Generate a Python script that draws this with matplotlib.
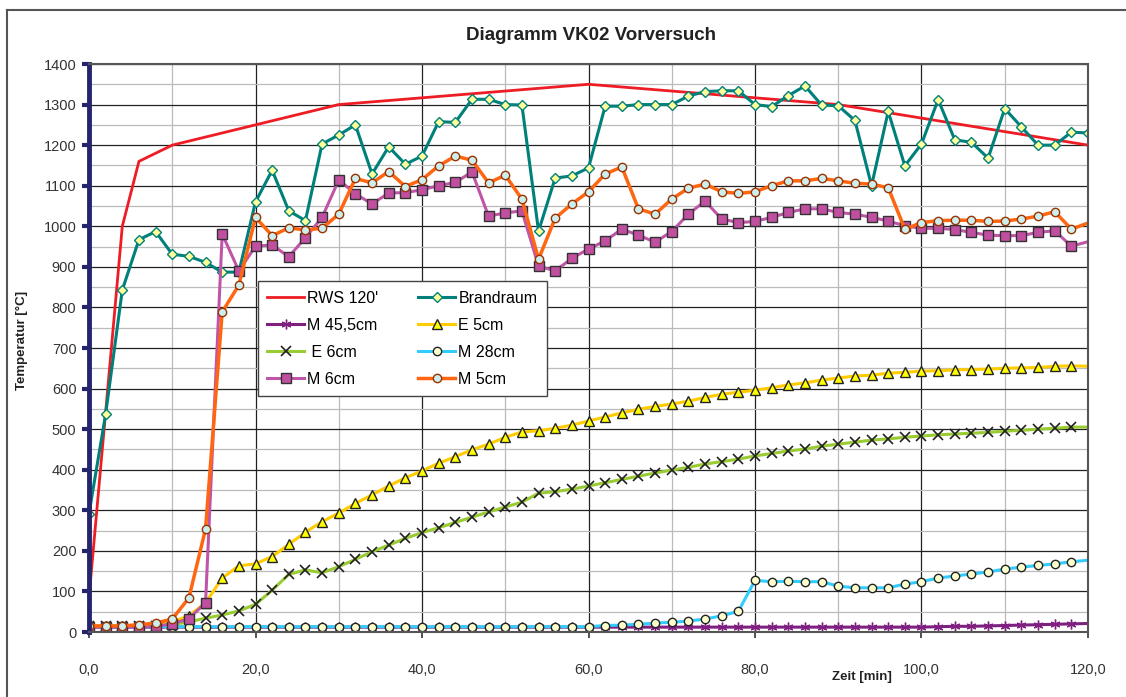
import matplotlib
matplotlib.use("Agg")
import matplotlib.pyplot as plt
from matplotlib.lines import Line2D
from matplotlib.ticker import MultipleLocator, FuncFormatter

plt.rcParams['font.family'] = ['Liberation Sans', 'DejaVu Sans']

# ── data (time in min, temperatures in °C) ─────────────────────────────
zeit = list(range(0, 121, 2))

rws_t = [0, 4, 6, 10, 20, 30, 60, 90, 120]
rws = [85, 1000, 1160, 1200, 1250, 1300, 1350, 1300, 1200]

brandraum = [292, 537, 843, 967, 987, 931, 926, 911, 887, 887,
             1060, 1138, 1038, 1014, 1203, 1225, 1250, 1129, 1196, 1153,
             1173, 1258, 1256, 1313, 1313, 1300, 1299, 988, 1119, 1124,
             1144, 1296, 1296, 1300, 1300, 1300, 1321, 1332, 1334, 1334,
             1300, 1295, 1322, 1346, 1299, 1297, 1261, 1100, 1283, 1149,
             1203, 1312, 1213, 1207, 1168, 1290, 1245, 1200, 1200, 1232,
             1230]

m45 = [12, 12, 12, 12, 12, 12, 12, 12, 12, 12,
       12, 12, 12, 12, 12, 12, 12, 12, 12, 12,
       12, 12, 12, 12, 12, 12, 12, 12, 12, 12,
       12, 12, 12, 12, 12, 12, 12, 12, 12, 12,
       12, 12, 12, 12, 12, 12, 12, 12, 12, 12,
       12, 13, 14, 14, 15, 16, 17, 18, 19, 20,
       21]

e5 = [15, 15, 15, 15, 17, 25, 40, 72, 133, 163,
      168, 186, 216, 246, 272, 293, 317, 338, 360, 380,
      397, 416, 432, 449, 463, 480, 493, 496, 502, 510,
      520, 530, 540, 549, 556, 562, 569, 578, 586, 591,
      596, 602, 609, 614, 621, 626, 631, 633, 638, 640,
      643, 644, 646, 647, 648, 650, 651, 652, 655, 656,
      655]

e6 = [14, 14, 14, 14, 15, 18, 25, 34, 42, 52,
      68, 103, 142, 153, 146, 161, 179, 198, 214, 231,
      245, 257, 270, 283, 296, 308, 320, 342, 346, 352,
      360, 368, 376, 384, 392, 399, 406, 414, 420, 426,
      434, 440, 446, 451, 458, 463, 468, 473, 476, 480,
      483, 486, 488, 490, 492, 495, 497, 500, 502, 505,
      505]

m28 = [13, 13, 13, 13, 13, 13, 13, 13, 13, 13,
       13, 13, 13, 13, 13, 13, 13, 13, 13, 13,
       13, 13, 13, 13, 13, 13, 13, 13, 13, 13,
       13, 16, 17, 19, 22, 24, 27, 32, 40, 51,
       127, 124, 125, 124, 124, 113, 109, 109, 109, 118,
       124, 133, 138, 143, 148, 155, 160, 164, 168, 173,
       177]

m6 = [12, 12, 12, 12, 14, 20, 33, 72, 981, 890,
      951, 954, 925, 972, 1022, 1114, 1080, 1055, 1082, 1083,
      1090, 1100, 1108, 1134, 1025, 1033, 1038, 902, 890, 921,
      944, 964, 993, 978, 961, 987, 1030, 1062, 1018, 1009,
      1012, 1022, 1034, 1043, 1043, 1034, 1030, 1022, 1013, 1001,
      995, 995, 992, 985, 978, 977, 977, 985, 989, 951,
      962]

m5 = [15, 15, 15, 18, 22, 32, 84, 254, 789, 855,
      1022, 977, 996, 991, 995, 1030, 1118, 1107, 1135, 1098,
      1115, 1149, 1173, 1163, 1107, 1126, 1067, 919, 1020, 1055,
      1085, 1129, 1146, 1043, 1030, 1067, 1094, 1104, 1085, 1081,
      1085, 1100, 1112, 1112, 1118, 1112, 1106, 1104, 1095, 993,
      1009, 1014, 1015, 1015, 1012, 1013, 1018, 1025, 1036, 993,
      1008]

# ── figure ─────────────────────────────────────────────────────────────
W, H = 1126, 697
fig = plt.figure(figsize=(W / 100, H / 100), dpi=100)
ax = fig.add_axes([89 / W, 1 - 632 / H, 999 / W, 568 / H])

lw = 2.2
no_last = slice(0, -1)
ax.plot(rws_t, rws, color='#ee1c24', lw=2.0, label="RWS 120'")
ax.plot(zeit, brandraum, color='#00807a', lw=lw, marker='D', ms=5,
        mfc='#ffff99', mec='#00807a', mew=1.0, label='Brandraum')
ax.plot(zeit, m45, color='#7f1f80', lw=lw, marker=(6, 2, 0), ms=7,
        mec='#7f1f80', mew=1.0, markevery=no_last, label='M 45,5cm')
ax.plot(zeit, e5, color='#ffcc00', lw=lw, marker='^', ms=6.5,
        mfc='#ffff00', mec='#222222', mew=1.0, markevery=no_last, label='E 5cm')
ax.plot(zeit, e6, color='#99cc33', lw=lw, marker='x', ms=6.5,
        mec='#222222', mew=1.2, markevery=no_last, label=' E 6cm')
ax.plot(zeit, m28, color='#33ccff', lw=lw, marker='o', ms=6,
        mfc='#ffffcc', mec='#222222', mew=1.0, markevery=no_last, label='M 28cm')
ax.plot(zeit, m6, color='#c055a8', lw=lw, marker='s', ms=6.5,
        mfc='#c04fa0', mec='#333333', mew=1.0, markevery=no_last, label='M 6cm')
ax.plot(zeit, m5, color='#ff6611', lw=lw + 0.3, marker='o', ms=6,
        mfc='#cceeee', mec='#993300', mew=1.0, markevery=no_last, label='M 5cm')

ax.set_xlim(0, 120)
ax.set_ylim(0, 1400)
ax.xaxis.set_major_locator(MultipleLocator(20))
ax.xaxis.set_minor_locator(MultipleLocator(10))
ax.yaxis.set_major_locator(MultipleLocator(100))
ax.yaxis.set_minor_locator(MultipleLocator(50))
ax.xaxis.set_major_formatter(FuncFormatter(lambda v, p: f"{v:.1f}".replace('.', ',')))
ax.yaxis.set_major_formatter(FuncFormatter(lambda v, p: f"{v:.0f}"))

ax.set_axisbelow(True)
ax.grid(which='major', color='#222222', lw=0.9)
ax.grid(which='minor', color='#bbbbbb', lw=0.9)
ax.tick_params(which='minor', length=0)
ax.tick_params(axis='x', which='major', length=4, width=1.2, color='#333333',
               pad=18, labelsize=10.5, labelcolor='#333333')
ax.tick_params(axis='y', which='major', length=5, width=3, color='#25256e',
               pad=4, labelsize=10.5, labelcolor='#333333')

for side in ['top', 'right', 'bottom']:
    ax.spines[side].set_color('#555555')
    ax.spines[side].set_linewidth(1.5)
ax.spines['left'].set_color('#25256e')
ax.spines['left'].set_linewidth(3.5)

# legend: row-wise order as in the original (matplotlib fills columns)
h, l = ax.get_legend_handles_labels()
order = [0, 2, 4, 6, 1, 3, 5, 7]
leg = ax.legend([h[i] for i in order], [l[i] for i in order], ncol=2,
                loc='upper left', bbox_to_anchor=(0.161, 0.632),
                fontsize=11.5, handlelength=2.3, handletextpad=0.2,
                columnspacing=2.5, labelspacing=0.75, borderpad=0.6,
                fancybox=False, framealpha=1, edgecolor='#444444')
leg.get_frame().set_linewidth(1.0)

fig.text(591 / W, 1 - 35 / H, 'Diagramm VK02 Vorversuch', ha='center', va='center',
         fontsize=13.5, fontweight='bold', color='#222222')
fig.text(862 / W, 1 - 677 / H, 'Zeit [min]', ha='center', va='center',
         fontsize=9.5, fontweight='bold', color='#222222')
fig.text(22 / W, 1 - 340 / H, 'Temperatur [°C]', ha='center', va='center',
         rotation=90, fontsize=9.5, fontweight='bold', color='#222222')

# outer chart border (top and left visible)
fig.add_artist(Line2D([7 / W, 1], [1 - 10 / H, 1 - 10 / H], color='#555555', lw=1.5))
fig.add_artist(Line2D([7 / W, 7 / W], [0, 1 - 10 / H], color='#555555', lw=1.5))

fig.savefig('out.png', dpi=100)
